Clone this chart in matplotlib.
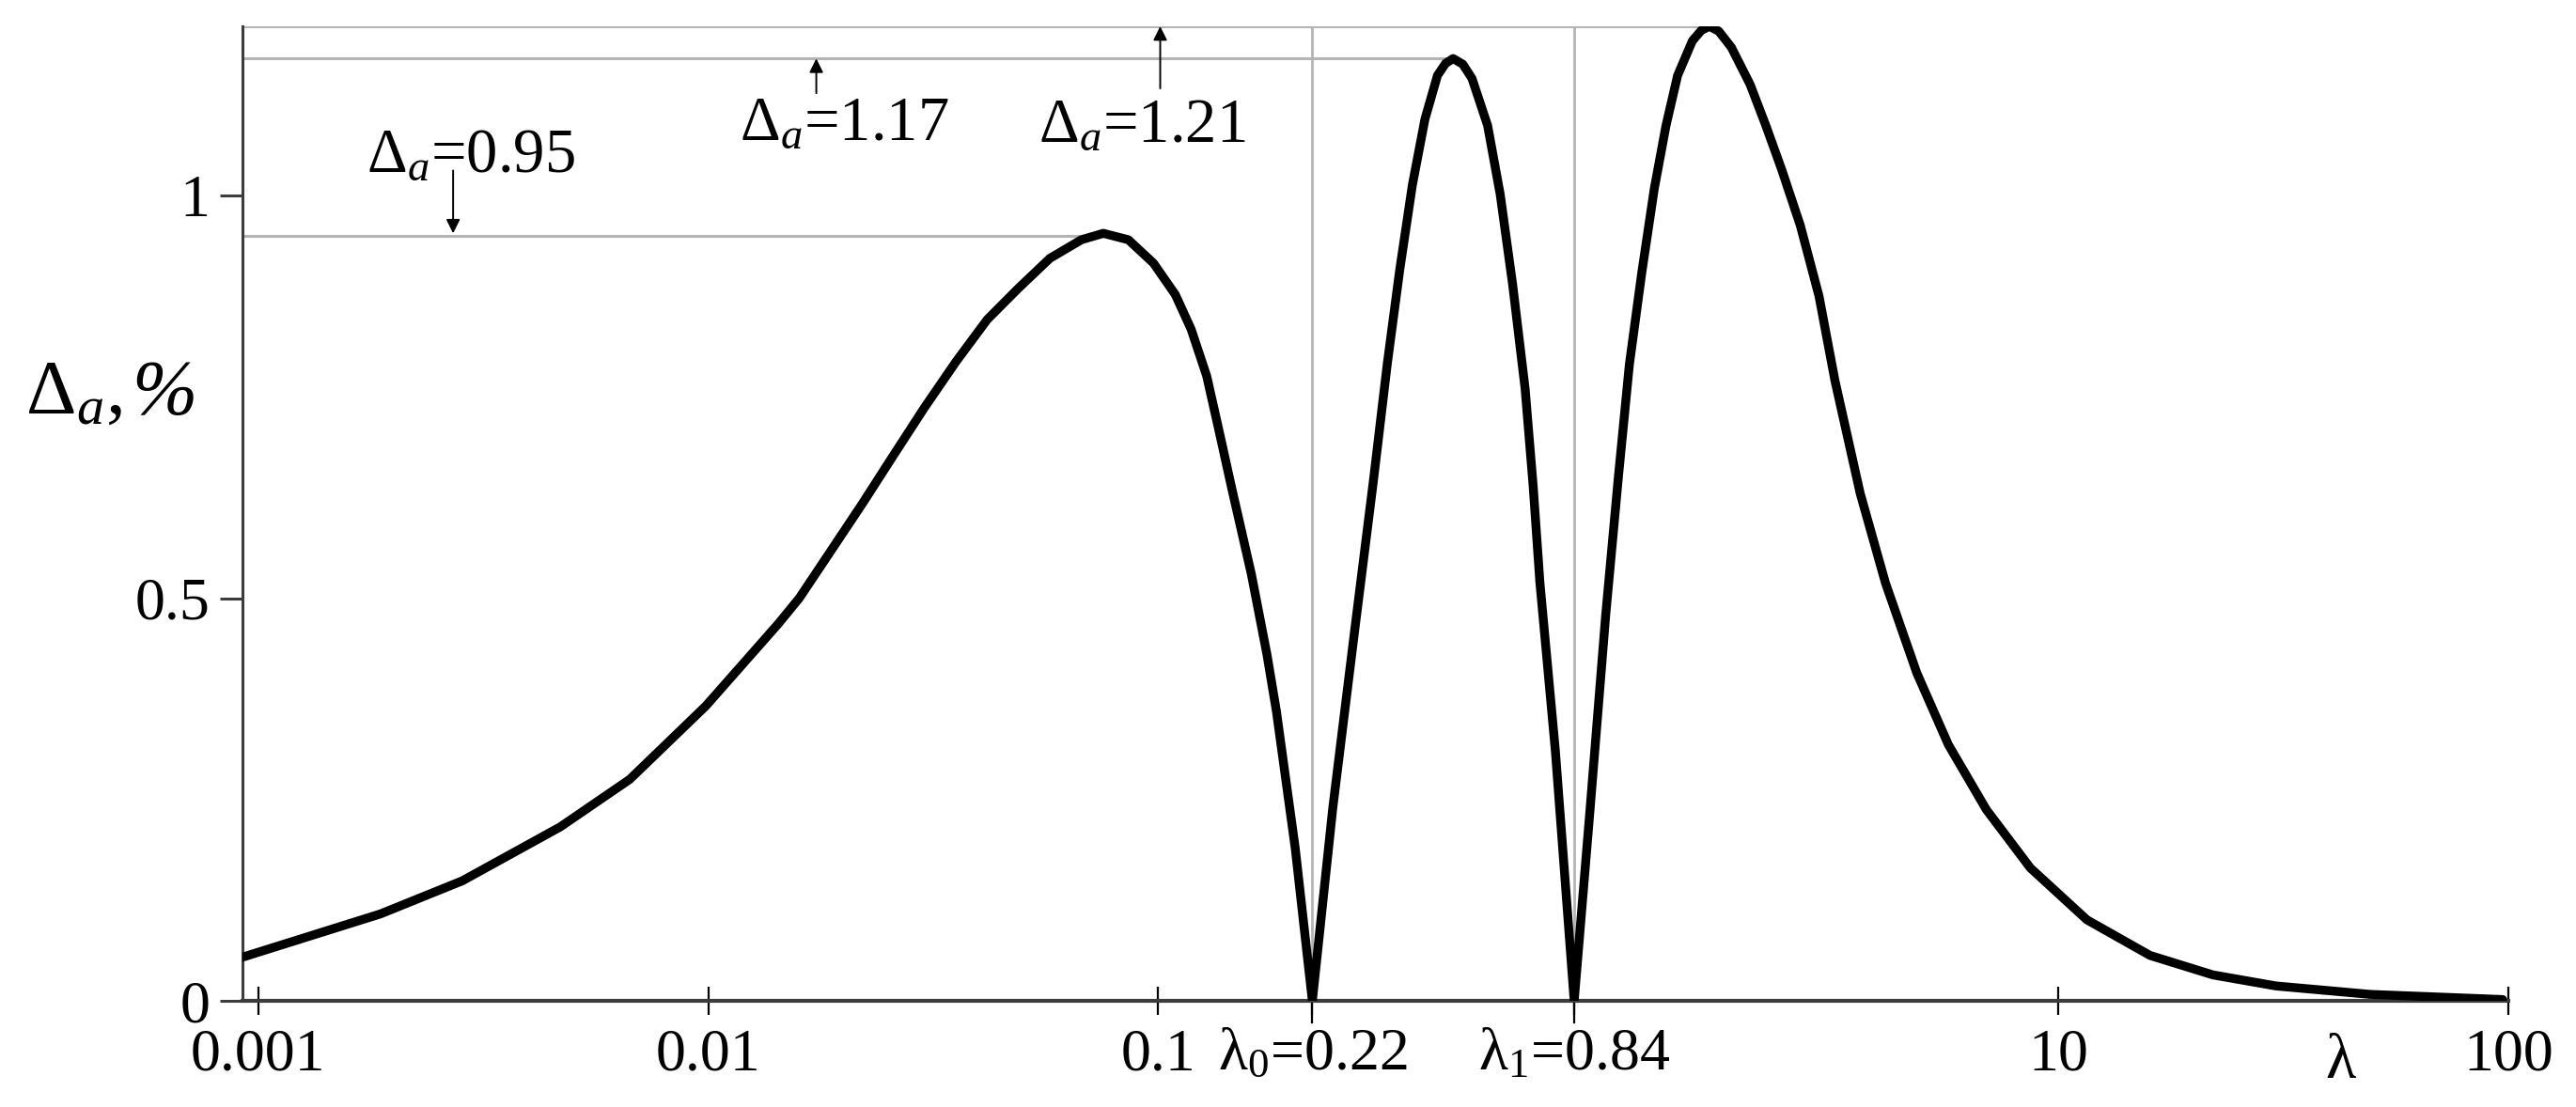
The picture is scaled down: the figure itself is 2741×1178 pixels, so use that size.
import matplotlib
matplotlib.use("Agg")
import matplotlib.pyplot as plt
from matplotlib.ticker import FixedLocator, NullLocator

plt.rcParams['font.family'] = ['Liberation Serif', 'DejaVu Serif']
plt.rcParams['mathtext.fontset'] = 'custom'
plt.rcParams['mathtext.rm'] = 'Liberation Serif'
plt.rcParams['mathtext.it'] = 'Liberation Serif:italic'

# curve
lam = [0.00092, 0.00187, 0.00284, 0.00469, 0.00669, 0.00987, 0.0143, 0.01593,
       0.01869, 0.02195, 0.02577, 0.03026, 0.03551, 0.04169, 0.04893, 0.05745,
       0.06747, 0.0755, 0.0858, 0.09757, 0.1091, 0.1183, 0.1281, 0.1367, 0.1457,
       0.161, 0.1744, 0.183, 0.2015, 0.22,
       0.2443, 0.2732, 0.3004, 0.3229, 0.3441, 0.367, 0.3915, 0.4173, 0.435,
       0.4521, 0.475, 0.4978, 0.5393, 0.5752, 0.6132, 0.6535, 0.6808, 0.7047,
       0.763, 0.84,
       0.911, 0.987, 1.053, 1.114, 1.187, 1.266, 1.344, 1.426, 1.538, 1.61,
       1.678, 1.76, 1.877, 2.066, 2.239, 2.426, 2.671, 2.94, 3.19, 3.63, 4.13,
       4.85, 5.70, 6.92, 8.67, 11.58, 15.99, 22.07, 30.46, 49.4, 97.2]
delta = [0.054, 0.108, 0.149, 0.216, 0.275, 0.366, 0.468, 0.500,
         0.558, 0.6165, 0.677, 0.737, 0.7935, 0.846, 0.885, 0.922,
         0.945, 0.953, 0.945, 0.916, 0.877, 0.834, 0.776, 0.706, 0.636,
         0.53, 0.43, 0.36, 0.19, 0.0,
         0.24, 0.46, 0.644, 0.7915, 0.908, 1.013, 1.095, 1.149, 1.164,
         1.17, 1.163, 1.1455, 1.087, 1.0016, 0.889, 0.760, 0.640, 0.52,
         0.31, 0.0,
         0.2375, 0.479, 0.65, 0.79, 0.904, 1.009, 1.087, 1.149, 1.192, 1.205,
         1.21, 1.204, 1.184, 1.138, 1.087, 1.033, 0.963, 0.875, 0.77, 0.63, 0.519,
         0.407, 0.318, 0.2375, 0.165, 0.1006, 0.0564, 0.0322, 0.0185, 0.008, 0.0016]

# peaks and zeros
peak_lam = [0.0755, 0.4521, 1.678]
peak_val = [0.95, 1.17, 1.21]
zero_lam = [0.22, 0.84]

xticks = [0.001, 0.01, 0.1, 0.22, 0.84, 10, 100]
xticklabels = ['0.001', '0.01', '0.1', 'λ$_0$=0.22', 'λ$_1$=0.84', '10', '100']
yticks = [0, 0.5, 1]
yticklabels = ['0', '0.5', '1']

fig = plt.figure(figsize=(27.41, 11.78), dpi=100)
ax = fig.add_axes([0.0941, 0.0959, 0.8796, 0.8803])

ax.set_xscale('log')
ax.set_xlim(0.000922, 100)
ax.set_ylim(0, 1.21)

grey = '#b4b4b4'
for pl, pv in zip(peak_lam, peak_val):
    ax.plot([0.000922, pl], [pv, pv], color=grey, lw=2.2, zorder=1)
for zl in zero_lam:
    ax.plot([zl, zl], [0, 1.21], color=grey, lw=2.0, zorder=1)
    ax.plot([zl, zl], [-0.027, 0], color='black', lw=1.6, clip_on=False)

ax.plot(lam, delta, color='black', lw=6.8, solid_joinstyle='round',
        solid_capstyle='round', zorder=3)

for s in ['top', 'right']:
    ax.spines[s].set_visible(False)
ax.spines['left'].set_color('#3c3c3c')
ax.spines['left'].set_linewidth(2.2)
ax.spines['bottom'].set_color('#3c3c3c')
ax.spines['bottom'].set_linewidth(3.0)

ax.xaxis.set_major_locator(FixedLocator(xticks))
ax.xaxis.set_minor_locator(NullLocator())
ax.set_xticklabels(xticklabels)
ax.set_yticks(yticks)
ax.set_yticklabels(yticklabels)
ax.tick_params(axis='x', direction='inout', length=22, width=1.6, pad=10,
               labelsize=46, color='black')
ax.tick_params(axis='y', direction='out', length=17, width=2.2, pad=8,
               labelsize=46, color='#3c3c3c')

# annotations
ax.text(0.00174, 1.03, r'Δ$_{a}$=0.95', fontsize=48, ha='left', va='baseline')
ax.text(0.01172, 1.069, r'Δ$_{a}$=1.17', fontsize=48, ha='left', va='baseline')
ax.text(0.0541, 1.067, r'Δ$_{a}$=1.21', fontsize=48, ha='left', va='baseline')

arrow = dict(arrowstyle='-|>', color='black', lw=1.4, mutation_scale=22,
             shrinkA=0, shrinkB=0)
ax.annotate('', xy=(0.00271, 0.953), xytext=(0.00271, 1.031), arrowprops=arrow)
ax.annotate('', xy=(0.01738, 1.17), xytext=(0.01738, 1.127), arrowprops=arrow)
ax.annotate('', xy=(0.101, 1.21), xytext=(0.101, 1.133), arrowprops=arrow)

fig.text(27 / 2741, 1 - 440 / 1178, r'Δ$_{a}$,', fontsize=60,
         ha='left', va='baseline')
fig.text(140 / 2741, 1 - 440 / 1178, '%', fontsize=60, style='italic',
         ha='left', va='baseline')
fig.text(2490 / 2741, 1 - 1147 / 1178, 'λ', fontsize=48, ha='center',
         va='baseline')

fig.savefig('out.png', dpi=100)
